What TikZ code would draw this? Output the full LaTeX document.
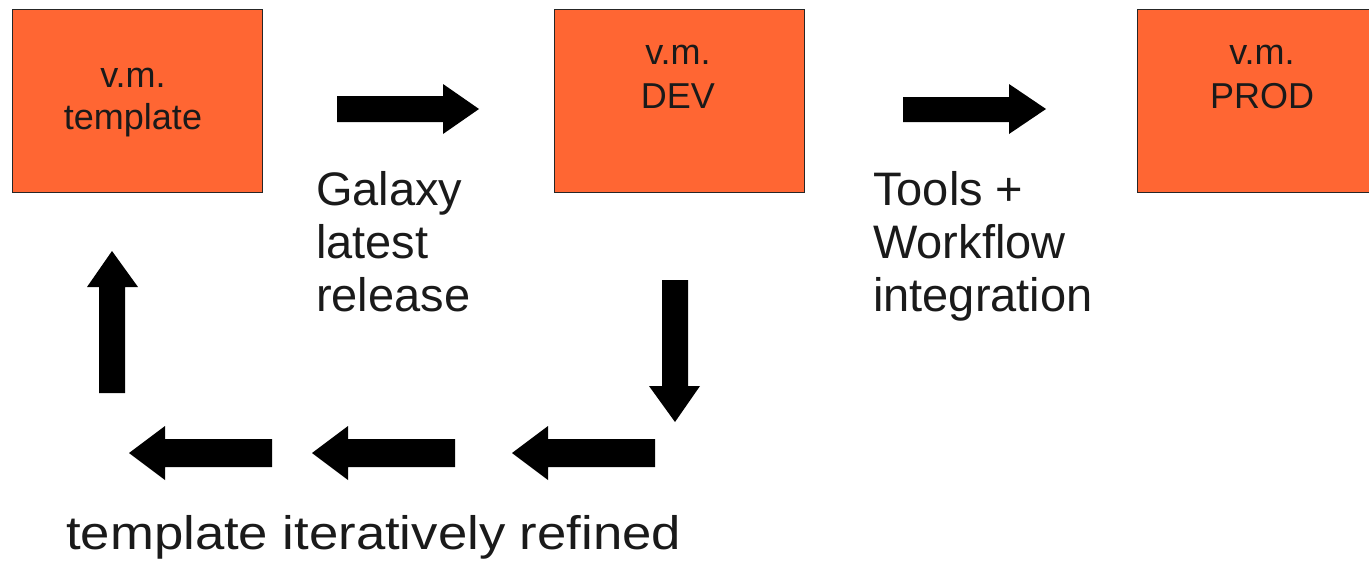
\documentclass[tikz,border=0pt]{standalone}
\usepackage{fontspec}
\setmainfont{Liberation Sans}
\definecolor{vmorange}{RGB}{255,102,51}
\definecolor{ink}{RGB}{26,26,26}
\begin{document}
\begin{tikzpicture}[x=1pt,y=-1pt,
  vmbox/.style={draw=black!85,line width=0.9pt,fill=vmorange},
  boxtext/.style={anchor=base,inner sep=0pt,align=center,text=ink,font=\fontsize{36}{44}\selectfont},
  label/.style={anchor=base west,inner sep=0pt,align=left,text=ink,font=\fontsize{47}{53}\selectfont},
  blockarrow/.style={fill=black,draw=none}]
\useasboundingbox (0,0) rectangle (1369,562);
% boxes
\draw[vmbox] (12,9) rectangle (262,192);
\draw[vmbox] (554,9) rectangle (804,192);
\draw[vmbox] (1137,9) rectangle (1387,192);
\node[boxtext,font=\fontsize{36}{42}\selectfont] (t1) at (133,129) {v.m.\\template};
\node[boxtext] (t2) at (678,108) {v.m.\\DEV};
\node[boxtext] (t3) at (1262,108) {v.m.\\PROD};
% labels
\node[label] (l1) at (316,311) {Galaxy\\latest\\release};
\node[label] (l2) at (873,311) {Tools +\\Workflow\\integration};
\node[label] (l3) at (66,549) {\scalebox{1.121}[1]{template iteratively refined}};
% right arrows
\fill[blockarrow] (337,96) -- (443,96) -- (443,84) -- (479,109) -- (443,134) -- (443,122) -- (337,122) -- cycle;
\fill[blockarrow] (903,97) -- (1009,97) -- (1009,84) -- (1046,109) -- (1009,134) -- (1009,122) -- (903,122) -- cycle;
% down arrow
\fill[blockarrow] (662,280) -- (688,280) -- (688,386) -- (700,386) -- (675,422) -- (649,386) -- (662,386) -- cycle;
% up arrow
\fill[blockarrow] (99,393) -- (125,393) -- (125,287) -- (138,287) -- (112,251) -- (87,287) -- (99,287) -- cycle;
% left arrows
\foreach \t/\b/\r in {129/165/272, 312/348/455, 512/548/655}{
  \fill[blockarrow] (\r,439) -- (\b,439) -- (\b,426) -- (\t,453) -- (\b,480) -- (\b,467) -- (\r,467) -- cycle;
}
\end{tikzpicture}
\end{document}
